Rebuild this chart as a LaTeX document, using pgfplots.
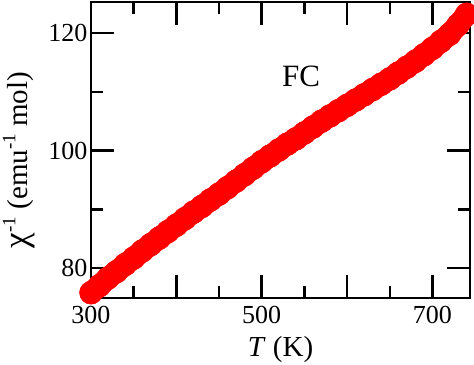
\documentclass[border=0pt]{standalone}
\usepackage{fontspec}
\setmainfont{Liberation Serif}
\usepackage{pgfplots}
\pgfplotsset{compat=1.18}
\newcommand{\sups}[1]{\raisebox{0.42em}{\fontsize{19}{19}\selectfont #1}}
\begin{document}
\begin{tikzpicture}
\begin{axis}[
  scale only axis, width=379pt, height=296pt,
  xmin=300, xmax=744, ymin=74.9, ymax=125.3,
  axis line style={line width=2.5pt},
  tick style={black, line width=2.5pt},
  tick align=inside,
  major tick length=23pt, minor tick length=12pt,
  xtick={300,400,500,600,700}, xticklabels={300,,500,,700},
  minor x tick num=1,
  ytick={80,100,120}, yticklabels={80,100,120}, minor y tick num=1,
  every tick label/.append style={font=\fontsize{26}{26}\selectfont},
  xticklabel style={yshift=-5pt},
  xlabel={\textit{T} (K)},
  ylabel={{\fontsize{35}{35}\selectfont χ}\sups{-1} (emu\sups{-1} mol)},
  xlabel style={font=\fontsize{29}{29}\selectfont, at={(axis description cs:0.5,-0.1757)}, anchor=center},
  ylabel style={font=\fontsize{29}{29}\selectfont, at={(axis description cs:-0.1900,0.466)}, anchor=center},
  clip=false,
]
\addplot[red, line width=22pt, line join=round, line cap=round, mark=*, mark size=11.5pt, mark options={draw=red, fill=red, line width=0.5pt}] coordinates {
(300,75.8)(310,77.0)(320,78.3)(330,79.4)(340,80.6)(350,81.7)(360,82.9)(370,84.0)
(380,85.1)(390,86.2)(400,87.3)(410,88.4)(420,89.5)(430,90.5)(440,91.6)(450,92.6)
(460,93.7)(470,94.8)(480,95.9)(490,97.0)(500,98.1)(510,99.1)(520,100.1)(530,101.1)
(540,102.0)(550,103.0)(560,104.0)(570,105.0)(580,105.9)(590,106.8)(600,107.7)
(610,108.6)(620,109.5)(630,110.4)(640,111.3)(650,112.2)(660,113.2)(670,114.2)
(680,115.2)(690,116.3)(700,117.4)(710,118.6)(720,119.8)(730,121.4)(740,123.2)
};
\node[font=\fontsize{31}{31}\selectfont] at (axis cs:546,112.7) {FC};
\coordinate (SW) at (rel axis cs:0,0);
\coordinate (NE) at (rel axis cs:1,1);
\end{axis}
\pgfresetboundingbox
\path[use as bounding box] ([shift={(-91pt,-67pt)}]SW) rectangle ([shift={(4pt,2pt)}]NE);
\end{tikzpicture}
\end{document}
